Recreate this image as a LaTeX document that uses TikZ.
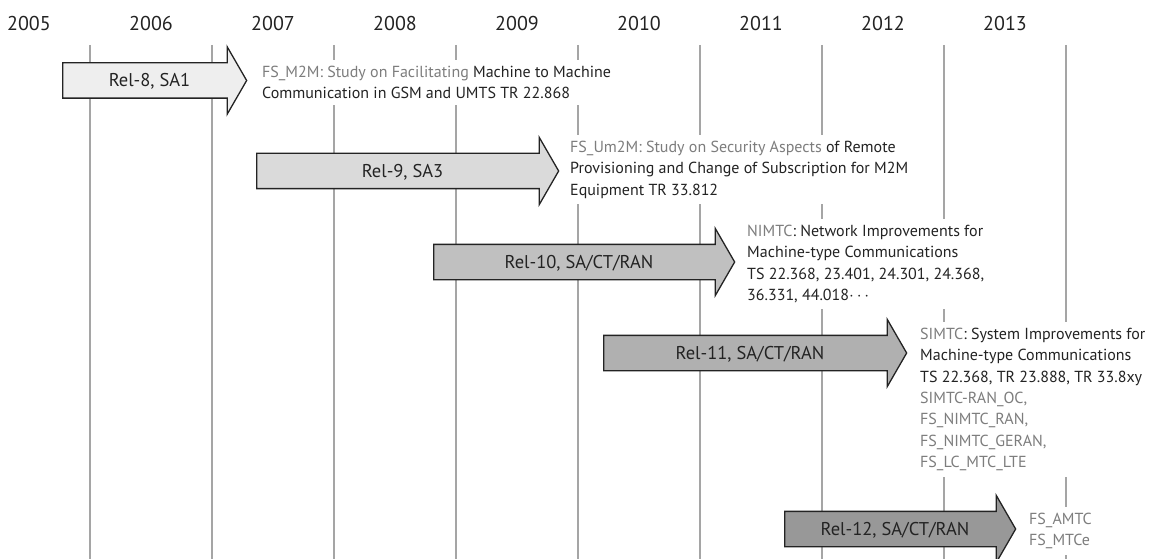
\documentclass[tikz,border=0pt]{standalone}
\usepackage{fontspec}
\setmainfont{PT Sans}
\usepackage{tikz}
\usetikzlibrary{shapes.arrows, positioning}
\definecolor{gridgray}{RGB}{165,165,165}
\definecolor{codegray}{RGB}{125,125,125}
\definecolor{inkgray}{RGB}{35,35,35}
\definecolor{releight}{RGB}{238,238,238}
\definecolor{relnine}{RGB}{218,218,218}
\definecolor{relten}{RGB}{192,192,192}
\definecolor{releleven}{RGB}{176,176,176}
\definecolor{reltwelve}{RGB}{152,152,152}

\begin{document}
\begin{tikzpicture}[
  x=1pt, y=-1pt,
  yr/.style={anchor=base, font=\fontsize{20}{24}\selectfont, text=inkgray},
  gridline/.style={draw=gridgray, line width=1.3pt},
  rel/.style={single arrow, draw=inkgray, line width=1.3pt, anchor=tail,
              single arrow tip angle=120, single arrow head extend=16pt,
              text height=14.5pt, text depth=1.5pt, inner ysep=9pt, inner xsep=2pt,
              font=\fontsize{18.5}{22}\selectfont, text=inkgray},
  txt/.style={fill=white, align=left, anchor=north west, inner sep=6pt,
              font=\fontsize{16}{21.3}\selectfont, text=inkgray},
]
  \useasboundingbox (0,0) rectangle (1171,559);

  \foreach \i in {0,...,8}
    \draw[gridline] (90+122*\i,45) -- (90+122*\i,559);
  \foreach \yy [count=\i from 0] in {2005,...,2013}
    \node[yr] (y\yy) at (29+122*\i,31) {\yy};

  \node[rel, fill=releight, minimum height=184pt] (r8) at (62,80.5) {Rel-8, SA1};
  \node[rel, fill=relnine, minimum height=302pt] (r9) at (256,171) {Rel-9, SA3};
  \node[rel, fill=relten, minimum height=301pt] (r10) at (433,262) {Rel-10, SA/CT/RAN};
  \node[rel, fill=releleven, minimum height=303pt] (r11) at (603,353) {Rel-11, SA/CT/RAN};
  \node[rel, fill=reltwelve, minimum height=231pt] (r12) at (784,529) {Rel-12, SA/CT/RAN};

  \node[txt] (t8) at (256,60)
    {\textcolor{codegray}{FS\_M2M: Study on Facilitating} Machine to Machine\\
     Communication in GSM and UMTS TR 22.868};
  \node[txt] (t9) at (564,135)
    {\textcolor{codegray}{FS\_Um2M: Study on Security Aspects} of Remote\\
     Provisioning and Change of Subscription for M2M\\
     Equipment TR 33.812};
  \node[txt] (t10) at (741,219)
    {\textcolor{codegray}{NIMTC}: Network Improvements for\\
     Machine-type Communications\\
     TS 22.368, 23.401, 24.301, 24.368,\\
     36.331, 44.018$\mathord{\cdots}$};
  \node[txt] (t11) at (914,322)
    {\textcolor{codegray}{SIMTC}: System Improvements for\\
     Machine-type Communications\\
     TS 22.368, TR 23.888, TR 33.8xy\\
     \textcolor{codegray}{SIMTC-RAN\_OC,}\\
     \textcolor{codegray}{FS\_NIMTC\_RAN,}\\
     \textcolor{codegray}{FS\_NIMTC\_GERAN,}\\
     \textcolor{codegray}{FS\_LC\_MTC\_LTE}};
  \node[txt, text=codegray] (t12) at (1023,507) {FS\_AMTC\\FS\_MTCe};
\end{tikzpicture}
\end{document}
